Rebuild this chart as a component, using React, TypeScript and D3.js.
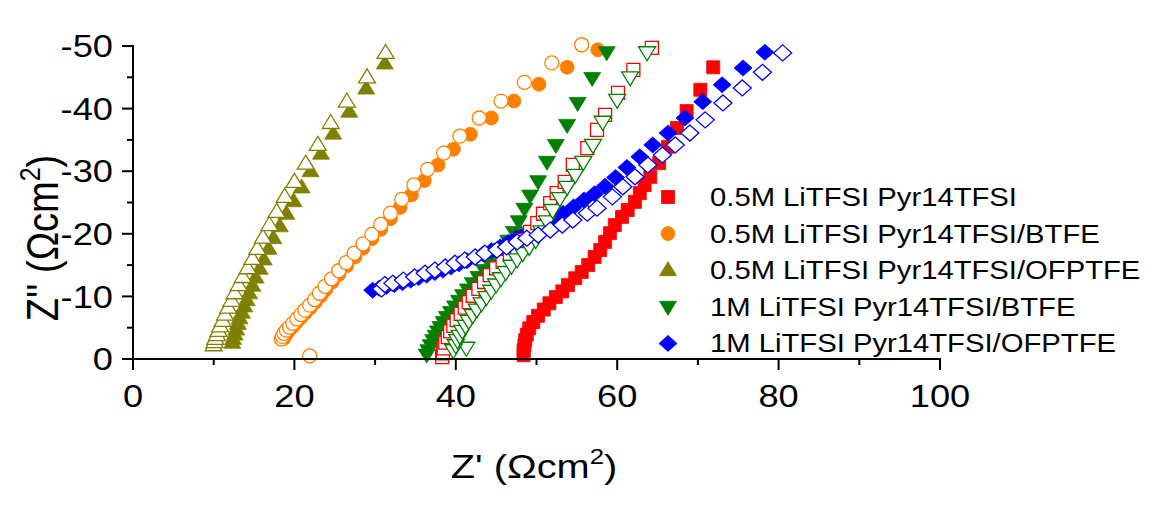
import React from "react";
import * as d3 from "d3";

type P = [number, number];

// 0.5M LiTFSI Pyr14TFSI (red squares)
const redFilled: P[] = [[48.4,-0.6],[48.4,-1.4],[48.5,-2.2],[48.6,-3.0],[48.8,-3.9],[49.1,-4.9],[49.6,-5.9],[50.2,-6.9],[50.9,-7.9],[51.6,-8.9],[52.4,-9.9],[53.2,-10.8],[53.9,-11.8],[54.8,-12.9],[55.6,-13.9],[56.4,-15.0],[57.2,-16.3],[57.9,-17.4],[58.5,-18.7],[59.1,-20.1],[59.7,-21.4],[60.6,-22.7],[61.3,-23.8],[62.2,-25.1],[62.8,-26.5],[63.4,-27.8],[64.1,-29.1],[65.2,-31.3],[66.3,-33.9],[67.4,-36.9],[68.6,-39.6],[70.3,-43.0],[71.9,-46.6]];
const redOpen: P[] = [[38.3,-0.3],[38.4,-0.9],[38.5,-1.7],[38.7,-2.6],[39.0,-3.5],[39.3,-4.4],[39.7,-5.3],[40.1,-6.2],[40.6,-7.2],[41.1,-8.2],[41.6,-9.1],[42.1,-10.1],[42.8,-11.2],[43.5,-12.3],[44.2,-13.4],[45.0,-14.5],[45.8,-15.5],[46.7,-16.6],[47.6,-17.7],[48.3,-19.0],[49.2,-20.3],[50.1,-21.7],[50.8,-23.2],[51.7,-24.9],[52.5,-26.5],[53.5,-28.3],[54.5,-31.0],[56.3,-33.7],[57.5,-36.6],[58.5,-39.0],[60.1,-42.5],[62.0,-46.2],[64.3,-49.7]];

// 0.5M LiTFSI Pyr14TFSI/BTFE (orange circles)
const orangeFilled: P[] = [[18.7,-3.3],[18.9,-3.8],[19.3,-4.5],[19.8,-5.2],[20.3,-5.9],[20.8,-6.6],[21.4,-7.4],[22.0,-8.2],[22.6,-9.1],[23.3,-10.1],[23.9,-11.1],[24.7,-12.3],[25.5,-13.5],[26.5,-14.9],[27.5,-16.3],[28.5,-17.7],[29.6,-19.2],[30.7,-20.7],[31.9,-22.4],[33.1,-24.2],[34.5,-26.2],[36.1,-28.5],[37.8,-31.0],[39.7,-33.5],[41.8,-35.9],[44.4,-38.5],[47.2,-41.2],[50.3,-43.9],[53.8,-46.6],[57.6,-49.4]];
const orangeOpen: P[] = [[21.9,-0.5],[18.4,-3.2],[18.5,-3.6],[18.7,-4.1],[19.0,-4.6],[19.4,-5.1],[19.8,-5.7],[20.3,-6.4],[20.8,-7.1],[21.3,-7.8],[21.9,-8.6],[22.5,-9.5],[23.1,-10.5],[23.8,-11.6],[24.6,-12.8],[25.5,-14.1],[26.4,-15.4],[27.4,-16.9],[28.5,-18.4],[29.6,-19.9],[30.7,-21.5],[31.9,-23.3],[33.3,-25.5],[34.8,-27.8],[36.5,-30.3],[38.5,-32.9],[40.5,-35.6],[42.9,-38.5],[45.6,-41.2],[48.5,-44.2],[51.9,-47.3],[55.6,-50.2]];

// 0.5M LiTFSI Pyr14TFSI/OFPTFE (olive triangles)
const oliveFilled: P[] = [[12.3,-2.6],[12.4,-3.2],[12.6,-3.9],[12.8,-4.7],[13.0,-5.6],[13.2,-6.5],[13.5,-7.4],[13.8,-8.4],[14.1,-9.4],[14.4,-10.5],[14.8,-11.7],[15.2,-13.0],[15.7,-14.4],[16.2,-15.9],[16.8,-17.6],[17.4,-19.3],[18.2,-21.2],[19.0,-23.2],[19.9,-25.2],[20.9,-27.4],[22.0,-30.0],[23.3,-32.8],[24.8,-36.0],[26.8,-39.5],[28.9,-43.2],[31.2,-47.2]];
const oliveOpen: P[] = [[10.0,-2.2],[10.1,-2.7],[10.2,-3.2],[10.4,-3.8],[10.6,-4.5],[10.8,-5.2],[11.1,-6.1],[11.4,-7.1],[11.8,-8.2],[12.2,-9.3],[12.6,-10.5],[13.1,-11.8],[13.6,-13.1],[14.2,-14.5],[14.8,-16.0],[15.4,-17.6],[16.1,-19.4],[16.9,-21.4],[17.8,-23.5],[18.8,-25.9],[20.0,-28.3],[21.4,-31.2],[22.9,-34.2],[24.5,-37.7],[26.5,-41.1],[29.0,-45.0],[31.3,-48.9]];

// 1M LiTFSI Pyr14TFSI/BTFE (green down triangles)
const greenFilled: P[] = [[36.4,-0.7],[36.6,-1.4],[36.9,-2.2],[37.2,-3.0],[37.5,-3.7],[37.8,-4.4],[38.1,-5.1],[38.5,-5.9],[38.9,-6.7],[39.4,-7.5],[39.9,-8.4],[40.4,-9.3],[40.9,-10.2],[41.5,-11.1],[42.1,-12.1],[42.8,-13.1],[43.5,-14.2],[44.2,-15.3],[44.9,-16.4],[45.7,-17.6],[46.5,-18.9],[47.2,-20.3],[47.8,-22.0],[48.5,-24.0],[49.2,-26.1],[50.2,-28.4],[51.3,-31.5],[52.4,-34.2],[53.8,-37.4],[55.1,-40.9],[56.9,-44.9],[58.7,-49.0]];
const greenOpen: P[] = [[41.3,-1.8],[39.7,-1.4],[40.0,-2.2],[40.2,-3.0],[40.5,-3.7],[40.8,-4.5],[41.2,-5.3],[41.6,-6.1],[42.1,-7.0],[42.6,-7.9],[43.2,-8.9],[43.8,-9.9],[44.4,-10.9],[45.0,-11.9],[45.6,-12.9],[46.2,-13.9],[46.9,-14.9],[47.6,-15.9],[48.3,-16.9],[49.1,-17.9],[49.9,-19.0],[50.6,-20.4],[51.3,-22.0],[52.0,-23.8],[52.9,-25.7],[53.8,-27.5],[54.8,-29.4],[55.8,-31.5],[57.0,-34.2],[58.2,-37.9],[60.0,-41.4],[61.6,-45.0],[63.7,-49.0]];

// 1M LiTFSI Pyr14TFSI/OFPTFE (blue diamonds)
const blueFilled: P[] = [[29.7,-11.0],[30.5,-11.3],[31.4,-11.6],[32.4,-11.9],[33.4,-12.2],[34.4,-12.6],[35.4,-13.0],[36.4,-13.4],[37.4,-13.8],[38.4,-14.2],[39.4,-14.7],[40.4,-15.2],[41.4,-15.7],[42.4,-16.2],[43.4,-16.8],[44.4,-17.3],[45.5,-17.9],[46.5,-18.6],[47.5,-19.3],[48.6,-20.0],[49.7,-20.7],[50.9,-21.5],[52.1,-22.4],[53.3,-23.3],[54.6,-24.3],[55.9,-25.4],[57.2,-26.4],[58.5,-27.6],[59.8,-29.0],[61.2,-30.6],[62.8,-32.3],[64.4,-34.2],[66.3,-36.1],[68.4,-38.5],[70.6,-41.1],[73.0,-43.8],[75.6,-46.5],[78.3,-49.0]];
const blueOpen: P[] = [[30.8,-11.2],[31.2,-11.9],[32.2,-12.1],[33.5,-12.6],[34.9,-13.1],[36.2,-13.7],[37.4,-14.2],[38.7,-14.7],[39.9,-15.3],[41.1,-15.8],[42.4,-16.3],[43.6,-16.9],[45.1,-17.4],[46.3,-17.9],[47.6,-18.7],[48.8,-19.3],[50.2,-19.8],[51.7,-20.6],[53.2,-21.4],[54.5,-22.2],[56.3,-23.3],[57.5,-24.1],[59.4,-25.9],[60.7,-27.5],[62.2,-29.1],[63.8,-31.0],[65.6,-32.6],[67.2,-34.2],[69.0,-36.1],[70.9,-38.2],[73.1,-40.9],[75.5,-43.3],[78.0,-45.8],[80.5,-48.9]];

const seriesNames = [
  "0.5M LiTFSI Pyr14TFSI",
  "0.5M LiTFSI Pyr14TFSI/BTFE",
  "0.5M LiTFSI Pyr14TFSI/OFPTFE",
  "1M LiTFSI Pyr14TFSI/BTFE",
  "1M LiTFSI Pyr14TFSI/OFPTFE",
];
const seriesColors = ["#FF0000", "#FF8000", "#808000", "#008000", "#0000FF"];
const seriesShapes = ["square", "circle", "triUp", "triDown", "diamond"];
const filledData = [redFilled, orangeFilled, oliveFilled, greenFilled, blueFilled];
const openData = [redOpen, orangeOpen, oliveOpen, greenOpen, blueOpen];

const xTicksMajor = [0, 20, 40, 60, 80, 100];
const xTicksMinor = [10, 30, 50, 70, 90];
const yTicksMajor = [0, -10, -20, -30, -40, -50];
const yTicksMinor = [-5, -15, -25, -35, -45];

const FONT = "Arial, 'Liberation Sans', sans-serif";
const SX = 1.17;

function shapePath(shape: string): string {
  switch (shape) {
    case "square": return "M-6.5,-6.5h13v13h-13Z";
    case "triUp": return "M0,-8.5L8.5,5.5L-8.5,5.5Z";
    case "triDown": return "M0,8.5L8.5,-5.5L-8.5,-5.5Z";
    case "diamond": return "M0,-8L9,0L0,8L-9,0Z";
    default: return "";
  }
}

function Marker({ x, y, shape, color, filled }: { x: number; y: number; shape: string; color: string; filled: boolean }) {
  const fill = filled ? color : "#FFFFFF";
  const stroke = color;
  const sw = filled ? 0.8 : 1.3;
  if (shape === "circle") {
    return <circle cx={x} cy={y} r={7} fill={fill} stroke={stroke} strokeWidth={sw} />;
  }
  return <path transform={`translate(${x},${y})`} d={shapePath(shape)} fill={fill} stroke={stroke} strokeWidth={sw} strokeLinejoin="miter" />;
}

export default function App() {
  const x = d3.scaleLinear().domain([0, 100]).range([133, 940]);
  const y = d3.scaleLinear().domain([0, -50]).range([359, 46]);

  const legendX = 668;
  const legendTextX = 710;
  const legendY0 = 197;
  const legendDy = 36.6;

  return (
    <svg width={1150} height={520} style={{ position: "absolute", left: 0, top: 0, background: "#fff" }} fontFamily={FONT}>
      <rect x={0} y={0} width={1150} height={520} fill="#fff" />
      {filledData.map((data, si) => (
        <g key={`f${si}`}>
          {data.map((d, i) => (
            <Marker key={i} x={x(d[0])} y={y(d[1])} shape={seriesShapes[si]} color={seriesColors[si]} filled={true} />
          ))}
        </g>
      ))}
      {openData.map((data, si) => (
        <g key={`o${si}`}>
          {data.map((d, i) => (
            <Marker key={i} x={x(d[0])} y={y(d[1])} shape={seriesShapes[si]} color={seriesColors[si]} filled={false} />
          ))}
        </g>
      ))}

      <line x1={x(0)} x2={x(0)} y1={y(-50) - 1} y2={y(0) + 1} stroke="#000" strokeWidth={2} />
      <line x1={x(0) - 1} x2={x(100) + 1} y1={y(0)} y2={y(0)} stroke="#000" strokeWidth={2} />
      {yTicksMajor.map((t) => (
        <g key={`ym${t}`}>
          <line x1={x(0) - 11} x2={x(0)} y1={y(t)} y2={y(t)} stroke="#000" strokeWidth={2} />
          <text transform={`translate(113,${y(t)}) scale(${SX},1)`} textAnchor="end" dy="0.36em" fontSize={31} fill="#000">{t}</text>
        </g>
      ))}
      {yTicksMinor.map((t) => (
        <line key={`yn${t}`} x1={x(0) - 6} x2={x(0)} y1={y(t)} y2={y(t)} stroke="#000" strokeWidth={2} />
      ))}
      {xTicksMajor.map((t) => (
        <g key={`xm${t}`}>
          <line x1={x(t)} x2={x(t)} y1={y(0)} y2={y(0) + 11} stroke="#000" strokeWidth={2} />
          <text transform={`translate(${x(t)},407) scale(${SX},1)`} textAnchor="middle" fontSize={31} fill="#000">{t}</text>
        </g>
      ))}
      {xTicksMinor.map((t) => (
        <line key={`xn${t}`} x1={x(t)} x2={x(t)} y1={y(0)} y2={y(0) + 6} stroke="#000" strokeWidth={2} />
      ))}

      <text transform={`translate(534,478) scale(${SX},1)`} textAnchor="middle" fontSize={34} fill="#000">
        <tspan>Z' (Ωcm</tspan>
        <tspan dy={-14} fontSize={22}>2</tspan>
        <tspan dy={14}>)</tspan>
      </text>
      <text transform={`translate(58,238) scale(${SX},1) rotate(-90)`} textAnchor="middle" fontSize={38} fill="#000">
        <tspan>Z'' (Ωcm</tspan>
        <tspan dy={-15} fontSize={25}>2</tspan>
        <tspan dy={15}>)</tspan>
      </text>

      {seriesNames.map((name, i) => (
        <g key={`lg${i}`}>
          <Marker x={legendX} y={legendY0 + i * legendDy} shape={seriesShapes[i]} color={seriesColors[i]} filled={true} />
          <text transform={`translate(${legendTextX},${legendY0 + i * legendDy}) scale(${SX},1)`} dy="0.36em" fontSize={25} fill="#000">{name}</text>
        </g>
      ))}
    </svg>
  );
}
